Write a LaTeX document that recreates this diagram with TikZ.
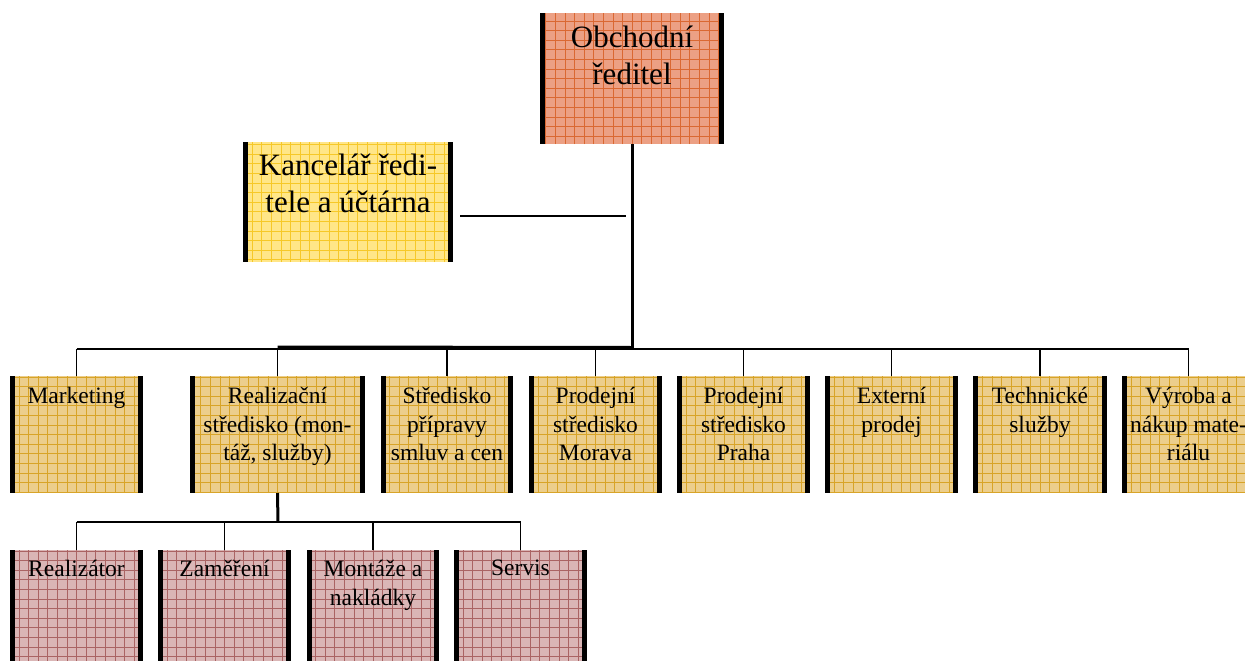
\documentclass[tikz,border=0pt]{standalone}
\usepackage{fontspec}
\setmainfont{Liberation Serif}
\definecolor{topfill}{RGB}{236,160,132}
\definecolor{topgrid}{RGB}{218,104,50}
\definecolor{offfill}{RGB}{255,230,136}
\definecolor{offgrid}{RGB}{246,200,40}
\definecolor{deptfill}{RGB}{236,206,140}
\definecolor{deptgrid}{RGB}{216,164,40}
\definecolor{unitfill}{RGB}{218,182,182}
\definecolor{unitgrid}{RGB}{170,100,100}
\tikzset{
  orgbox/.style n args={2}{
    fill=#1, inner sep=0pt, outer sep=0pt,
    path picture={
      \draw[#2, line width=0.6pt, step=9.6pt]
        (path picture bounding box.south west) grid (path picture bounding box.north east);
      \fill[black] (path picture bounding box.south west)
        rectangle ([xshift=5pt]path picture bounding box.north west);
      \fill[black] ([xshift=-5pt]path picture bounding box.south east)
        rectangle (path picture bounding box.north east);
    }},
  bigtext/.style={anchor=north, align=center, inner sep=1pt,
    font=\fontsize{31}{36.5}\selectfont},
  smalltext/.style={anchor=north, align=center, inner sep=1pt,
    font=\fontsize{23.5}{28.7}\selectfont},
  dept/.style={orgbox={deptfill}{deptgrid}, minimum height=117pt},
  unit/.style={orgbox={unitfill}{unitgrid}, minimum height=117pt},
  link/.style={line width=1.6pt},
  trunk/.style={line width=3pt},
}
\begin{document}
\begin{tikzpicture}[x=1pt, y=-1pt]
\useasboundingbox (0,0) rectangle (1245,661);
\clip (0,0) rectangle (1245,661);

% head of the department
\node[orgbox={topfill}{topgrid}, minimum width=184pt, minimum height=131pt,
      label={[bigtext, yshift=-12pt]north:{Obchodní\\ředitel}}] (head) at (632,78.5) {};

% staff office
\node[orgbox={offfill}{offgrid}, minimum width=210pt, minimum height=120pt,
      label={[bigtext, yshift=-11pt]north:{Kancelář ředi-\\tele a účtárna}}] (office) at (348,202) {};

% departments
\node[dept, minimum width=133pt, label={[smalltext, yshift=-10pt]north:{Marketing}}] (mk) at (76.5,434.5) {};
\node[dept, minimum width=175pt, label={[smalltext, yshift=-10pt]north:{Realizační\\středisko (mon-\\táž, služby)}}] (re) at (277.5,434.5) {};
\node[dept, minimum width=132pt, label={[smalltext, yshift=-10pt]north:{Středisko\\přípravy\\smluv a cen}}] (sp) at (447,434.5) {};
\node[dept, minimum width=133pt, label={[smalltext, yshift=-10pt]north:{Prodejní\\středisko\\Morava}}] (pm) at (595.5,434.5) {};
\node[dept, minimum width=133pt, label={[smalltext, yshift=-10pt]north:{Prodejní\\středisko\\Praha}}] (pp) at (743.5,434.5) {};
\node[dept, minimum width=133pt, label={[smalltext, yshift=-10pt]north:{Externí\\prodej}}] (ep) at (891.5,434.5) {};
\node[dept, minimum width=134pt, label={[smalltext, yshift=-10pt]north:{Technické\\služby}}] (ts) at (1040,434.5) {};
\node[dept, minimum width=133pt, label={[smalltext, yshift=-10pt]north:{Výroba a\\nákup mate-\\riálu}}] (vn) at (1188.5,434.5) {};

% units of the realisation centre
\node[unit, minimum width=133pt, label={[smalltext, yshift=-9pt]north:{Realizátor}}] (u1) at (76.5,608.5) {};
\node[unit, minimum width=133pt, label={[smalltext, yshift=-9pt]north:{Zaměření}}] (u2) at (224.5,608.5) {};
\node[unit, minimum width=132pt, label={[smalltext, yshift=-9pt]north:{Montáže a\\nakládky}}] (u3) at (373,608.5) {};
\node[unit, minimum width=133pt, label={[smalltext, yshift=-9pt]north:{Servis}}] (u4) at (520.5,608.5) {};

% bus coordinates
\coordinate (hub) at (632,347.5);
\coordinate (offend) at (626,216);
\coordinate (offstart) at (460,216);
\coordinate (rehub) at (278,522);

% head trunk and staff link
\draw[trunk] (head.south) -- (hub);
\draw[link] (offstart) -- (offend);

% department bus
\draw[link] (mk.north |- 0,349) -- (vn.north |- 0,349);
\draw[trunk] (re.north |- 0,347) -- (hub);
\foreach \d in {mk,re,sp,pm,pp,ep,ts,vn}
  \draw[link] (\d.north |- 0,349) -- (\d.north);

% realisation centre bus
\draw[trunk] (re.south) -- (rehub);
\draw[line width=2pt] (u1.north |- rehub) -- (u4.north |- rehub);
\foreach \u in {u1,u2,u3,u4}
  \draw[link] (\u.north |- rehub) -- (\u.north);
\end{tikzpicture}
\end{document}
